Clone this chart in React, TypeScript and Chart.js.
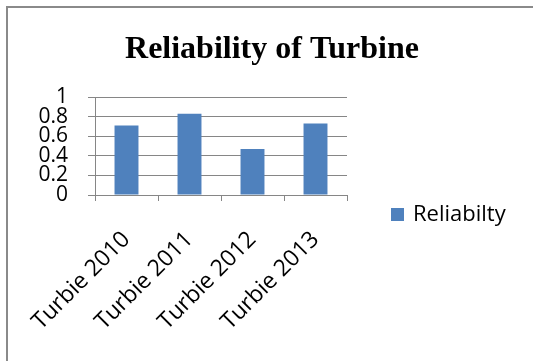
import React, { useEffect, useRef } from "react";
import { Chart, registerables } from "chart.js";

Chart.register(...registerables);

const categories = ["Turbie 2010", "Turbie 2011", "Turbie 2012", "Turbie 2013"];
const reliability = [0.71, 0.83, 0.47, 0.73];
const seriesName = "Reliabilty";
const chartTitle = "Reliability of Turbine";
const yTicks = [0, 0.2, 0.4, 0.6, 0.8, 1];

const W = 533;
const H = 361;
const BAR_BLUE = "#4F81BD";
const GRID = "#868686";
const LABEL_FONT = "'Open Sans', 'Noto Sans', sans-serif";

// Title centred over the whole chart, and the legend to the right of the plot
const decorations = {
  id: "decorations",
  afterDraw(chart: any) {
    const ctx = chart.ctx;
    ctx.save();
    ctx.fillStyle = "#000";
    ctx.font = "bold 32px 'Liberation Serif', 'Times New Roman', serif";
    ctx.textAlign = "center";
    ctx.textBaseline = "alphabetic";
    ctx.fillText(chartTitle, 272, 58);

    const ds = chart.data.datasets[0];
    const x = 391;
    const yMid = 215;
    ctx.fillStyle = ds.backgroundColor;
    ctx.fillRect(x, yMid - 7, 13, 13);
    ctx.fillStyle = "#000";
    ctx.font = `22px ${LABEL_FONT}`;
    ctx.textAlign = "left";
    ctx.textBaseline = "middle";
    ctx.fillText(ds.label, x + 22, yMid);
    ctx.restore();
  },
};

export default function App() {
  const canvasRef = useRef<HTMLCanvasElement | null>(null);

  useEffect(() => {
    const canvas = canvasRef.current;
    if (!canvas) return;
    const chart = new Chart(canvas, {
      type: "bar",
      data: {
        labels: categories,
        datasets: [
          {
            label: seriesName,
            data: reliability,
            backgroundColor: BAR_BLUE,
            borderWidth: 0,
            categoryPercentage: 1,
            barPercentage: 0.38,
          },
        ],
      },
      options: {
        responsive: false,
        animation: false,
        devicePixelRatio: 1,
        layout: { padding: { left: 0, right: W - 347, top: 97, bottom: 0 } },
        plugins: {
          legend: { display: false },
          tooltip: { enabled: false },
          title: { display: false },
        },
        scales: {
          x: {
            grid: {
              display: true,
              drawOnChartArea: false,
              drawTicks: true,
              tickLength: 6,
              color: GRID,
              offset: true,
            },
            border: { display: true, color: GRID },
            ticks: {
              color: "#000",
              font: { family: LABEL_FONT, size: 23 },
              maxRotation: 45,
              minRotation: 45,
              autoSkip: false,
              padding: 25,
            },
            afterFit: (scale: any) => {
              scale.height = H - 195;
              scale.paddingLeft = 0;
              scale.paddingRight = 0;
            },
          },
          y: {
            min: 0,
            max: 1,
            afterBuildTicks: (scale: any) => {
              scale.ticks = yTicks.map((v) => ({ value: v }));
            },
            grid: {
              color: GRID,
              drawTicks: true,
              tickLength: 7,
            },
            border: { display: true, color: GRID },
            ticks: {
              color: "#000",
              font: { family: LABEL_FONT, size: 21, lineHeight: 1 },
              autoSkip: false,
              padding: 20,
              callback: (v: any) => String(Number(Number(v).toFixed(1))),
            },
            afterFit: (scale: any) => {
              scale.width = 95;
            },
          },
        },
      },
      plugins: [decorations],
    });
    return () => chart.destroy();
  }, []);

  return (
    <div
      style={{
        position: "fixed",
        left: 0,
        top: 0,
        width: W,
        height: H,
        background: "#fff",
        overflow: "hidden",
      }}
    >
      <canvas ref={canvasRef} width={W} height={H} style={{ display: "block", width: W, height: H }} />
      <div
        style={{
          position: "absolute",
          left: 6,
          top: 6,
          width: W + 20,
          height: H + 20,
          borderLeft: "2px solid #8a8a8a",
          borderTop: "2px solid #8a8a8a",
          pointerEvents: "none",
        }}
      />
    </div>
  );
}
